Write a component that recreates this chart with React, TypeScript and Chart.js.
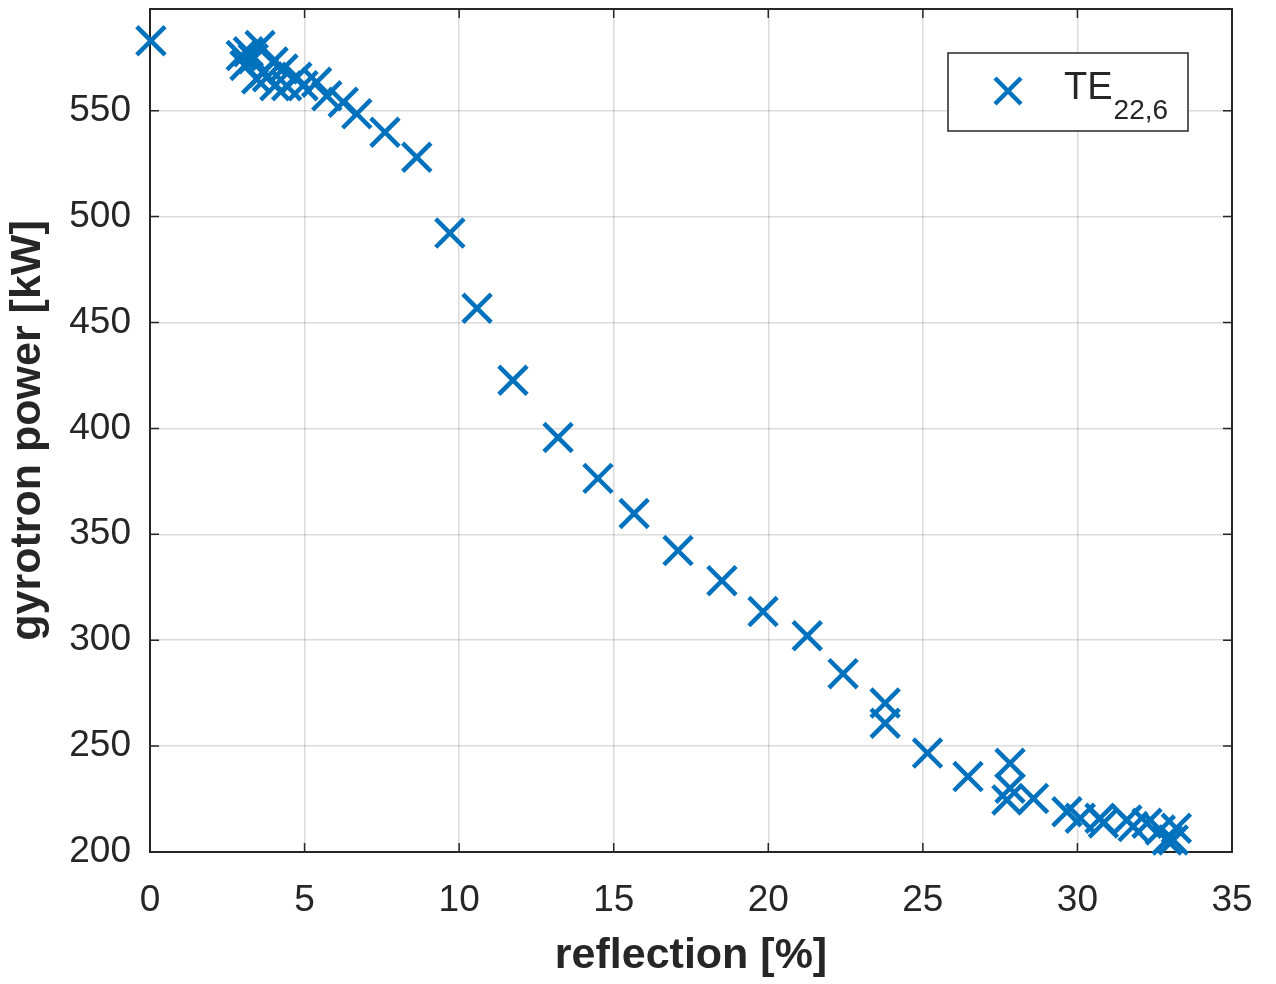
import React, { useEffect, useRef } from "react";
import { Chart, registerables } from "chart.js";

Chart.register(...registerables);

// reflection [%]
const reflection: number[] = [
  0.03,
  3.18, 3.56, 3.07, 3.67, 3.98, 4.3, 4.42, 4.75, 4.95, 5.39, 4.04, 3.45, 3.34, 2.95, 3.8,
  5.72, 6.25, 6.69, 7.6, 8.63,
  9.7, 10.58, 11.74, 13.2, 14.49, 15.66, 17.08, 18.5, 19.83, 21.26, 22.42,
  23.78, 23.78, 25.15, 26.46, 27.82, 27.82, 27.72, 28.58, 29.66, 30.09, 30.73, 30.84,
  31.6, 31.8, 32.25, 32.68, 32.9, 33.2, 33.1,
];
// gyrotron power [kW]
const power: number[] = [
  583,
  577.8, 580.8, 571.3, 568, 573, 569.7, 561.8, 565.8, 561.8, 563.4, 561.8, 565, 574.5, 576, 566,
  557, 554, 548.5, 539.8, 528,
  492.2, 456.7, 422.7, 395.7, 376.4, 359.8, 342.3, 328.1, 313.5, 302.1, 284.2,
  270.3, 260.8, 246.7, 235.6, 241.9, 230.1, 224.6, 225.3, 219, 215.9, 215.9, 213.7,
  215.1, 212, 213.6, 210.4, 205.7, 211.2, 205.7,
];

const xTicks: number[] = [0, 5, 10, 15, 20, 25, 30, 35];
const yTicks: number[] = [200, 250, 300, 350, 400, 450, 500, 550];
const legendMain = "TE";
const legendSub = "22,6";
const xTitle = "reflection [%]";
const yTitle = "gyrotron power [kW]";

const BLUE = "#0072BD";
const AXIS = "#262626";
const FONT = "'Liberation Sans', Arial, Helvetica, sans-serif";

function drawCross(ctx: CanvasRenderingContext2D, x: number, y: number, h: number, lw: number) {
  ctx.save();
  ctx.strokeStyle = BLUE;
  ctx.lineWidth = lw;
  ctx.beginPath();
  ctx.moveTo(x - h, y - h);
  ctx.lineTo(x + h, y + h);
  ctx.moveTo(x - h, y + h);
  ctx.lineTo(x + h, y - h);
  ctx.stroke();
  ctx.restore();
}

const boxPlugin = {
  id: "matlabBox",
  beforeDatasetsDraw(chart: any) {
    const { ctx, chartArea: a, scales } = chart;
    ctx.save();
    ctx.strokeStyle = AXIS;
    ctx.lineWidth = 2;
    ctx.strokeRect(a.left, a.top, a.right - a.left, a.bottom - a.top);
    const tl = 9;
    ctx.lineWidth = 1.5;
    ctx.beginPath();
    for (const v of xTicks) {
      const px = scales.x.getPixelForValue(v);
      ctx.moveTo(px, a.bottom);
      ctx.lineTo(px, a.bottom - tl);
      ctx.moveTo(px, a.top);
      ctx.lineTo(px, a.top + tl);
    }
    for (const v of yTicks) {
      const py = scales.y.getPixelForValue(v);
      ctx.moveTo(a.left, py);
      ctx.lineTo(a.left + tl, py);
      ctx.moveTo(a.right, py);
      ctx.lineTo(a.right - tl, py);
    }
    ctx.stroke();
    ctx.restore();
  },
  afterDraw(chart: any) {
    const { ctx, chartArea: a } = chart;
    const bx = a.right - 284;
    const by = a.top + 44;
    const bw = 240;
    const bh = 78;
    ctx.save();
    ctx.fillStyle = "#ffffff";
    ctx.fillRect(bx, by, bw, bh);
    ctx.strokeStyle = AXIS;
    ctx.lineWidth = 1.5;
    ctx.strokeRect(bx, by, bw, bh);
    drawCross(ctx, bx + 60, by + 38, 13, 4.5);
    ctx.fillStyle = AXIS;
    ctx.textBaseline = "alphabetic";
    ctx.textAlign = "left";
    ctx.font = `38px ${FONT}`;
    ctx.fillText(legendMain, bx + 116, by + 46);
    const w = ctx.measureText(legendMain).width;
    ctx.font = `28px ${FONT}`;
    ctx.fillText(legendSub, bx + 116 + w + 1, by + 66);
    ctx.restore();
  },
};

export default function App() {
  const ref = useRef<HTMLCanvasElement | null>(null);
  useEffect(() => {
    if (!ref.current) return;
    const chart = new Chart(ref.current, {
      type: "scatter",
      data: {
        datasets: [
          {
            label: legendMain + legendSub,
            data: reflection.map((x, i) => ({ x, y: power[i] })),
            pointStyle: "crossRot",
            pointRadius: 20,
            pointBorderWidth: 4.5,
            borderColor: BLUE,
            backgroundColor: BLUE,
            clip: false as any,
          },
        ],
      },
      plugins: [boxPlugin],
      options: {
        animation: false,
        responsive: false,
        devicePixelRatio: 1,
        layout: { autoPadding: false, padding: { left: 0, right: 44, top: 9, bottom: 0 } },
        plugins: { legend: { display: false }, tooltip: { enabled: false } },
        scales: {
          x: {
            type: "linear",
            min: 0,
            max: 35,
            afterBuildTicks: (s: any) => {
              s.ticks = xTicks.map((v) => ({ value: v }));
            },
            afterFit: (s: any) => {
              s.height = 132;
              s.paddingLeft = 0;
              s.paddingRight = 0;
            },
            grid: { color: "rgba(0,0,0,0.14)", lineWidth: 1.5, drawTicks: false },
            border: { display: false },
            ticks: {
              padding: 27,
              color: AXIS,
              font: { family: FONT, size: 37 },
              maxRotation: 0,
            },
            title: {
              display: true,
              text: xTitle,
              color: AXIS,
              font: { family: FONT, size: 43, weight: "bold" },
              padding: { top: 0, bottom: 2 },
            },
          },
          y: {
            type: "linear",
            min: 200,
            max: 598,
            afterBuildTicks: (s: any) => {
              s.ticks = yTicks.map((v) => ({ value: v }));
            },
            afterFit: (s: any) => {
              s.width = 150;
              s.paddingTop = 0;
              s.paddingBottom = 0;
            },
            grid: { color: "rgba(0,0,0,0.14)", lineWidth: 1.5, drawTicks: false },
            border: { display: false },
            ticks: {
              padding: 19,
              color: AXIS,
              font: { family: FONT, size: 37 },
            },
            title: {
              display: true,
              text: yTitle,
              color: AXIS,
              font: { family: FONT, size: 43, weight: "bold" },
              padding: { top: 2, bottom: 0 },
            },
          },
        },
      },
    });
    return () => chart.destroy();
  }, []);
  return (
    <div style={{ position: "fixed", left: 0, top: 0, width: 1276, height: 984, background: "#fff" }}>
      <canvas ref={ref} width={1276} height={984} />
    </div>
  );
}
